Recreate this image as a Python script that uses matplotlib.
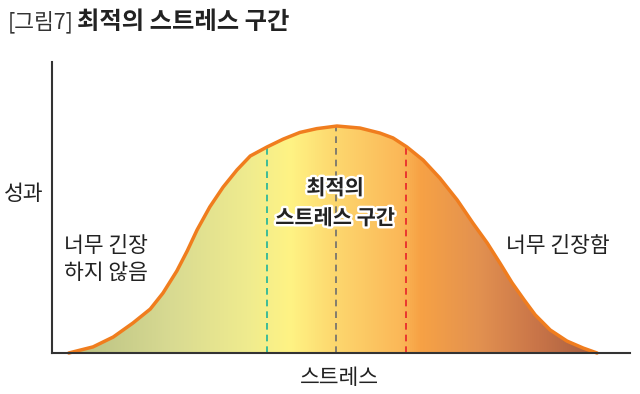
import numpy as np
import matplotlib
matplotlib.use("Agg")
import matplotlib.pyplot as plt
from matplotlib.colors import LinearSegmentedColormap
import matplotlib.patheffects as pe

plt.rcParams['font.family'] = ['Noto Sans CJK KR', 'DejaVu Sans']

# Curve (stress vs performance) (axis 0-100)
stress = [2.9, 7.1, 10.6, 14.0, 17.0, 19.2, 21.6, 23.4, 25.1, 27.3, 29.6, 32.0,
          34.3, 37.2, 40.0, 42.9, 45.8, 49.3, 53.3, 56.7, 59.0, 61.4, 64.2,
          67.1, 70.1, 72.8, 75.3, 77.5, 79.6, 81.7, 83.6, 86.2, 89.1, 91.9, 94.3]
performance = [0, 2.1, 5.5, 10.3, 15.1, 20.6, 28.2, 35.1, 42.3, 50.2, 57.0, 62.9,
               67.7, 70.8, 73.5, 75.8, 77.1, 78.0, 77.3, 75.6, 73.9, 70.8, 66.3,
               60.1, 52.6, 44.7, 37.8, 30.9, 24.1, 18.2, 13.1, 7.9, 4.1, 1.7, 0]

# Zone markers
marker_x = [37.2, 49.1, 61.2]
marker_colors = ['#1fb39a', '#6e6e6e', '#e8222a']

# Gradient stops along x
grad_pos = [2.6, 20.4, 34.3, 41.2, 48.1, 60.2, 63.7, 74.0, 84.4, 94.1]
grad_cols = ['#b7bf82', '#d8da92', '#f0ec8e', '#fff384', '#fdda70', '#fbb858',
             '#f7a245', '#e29150', '#c87448', '#a65e40']

title_prefix = "[그림7]"
title_main = "최적의 스트레스 구간"
ylabel = "성과"
xlabel = "스트레스"
label_left = ["너무 긴장", "하지 않음"]
label_mid = ["최적의", "스트레스 구간"]
label_right = "너무 긴장함"

W, H = 640, 394
fig = plt.figure(figsize=(W / 100, H / 100), dpi=100)
ax = fig.add_axes([52 / W, 1 - 353 / H, 578 / W, 291 / H])
ax.set_xlim(0, 100)
ax.set_ylim(0, 100)

# gradient fill clipped by curve
x0, x1 = grad_pos[0], grad_pos[-1]
nodes = [(p - x0) / (x1 - x0) for p in grad_pos]
cmap = LinearSegmentedColormap.from_list('g', list(zip(nodes, grad_cols)))
grad = np.linspace(0, 1, 512).reshape(1, -1)
im = ax.imshow(grad, cmap=cmap, extent=[x0, x1, 0, 100], aspect='auto',
               origin='lower', zorder=1)
poly = ax.fill(stress, performance, facecolor='none', edgecolor='none')[0]
im.set_clip_path(poly)

# dashed markers
for mx, mc in zip(marker_x, marker_colors):
    top = np.interp(mx, stress, performance)
    ax.plot([mx, mx], [0, top], color=mc, lw=1.2, ls=(0, (4, 3)), zorder=2)

ax.plot(stress, performance, color='#f07d1e', lw=2.5, zorder=3,
        solid_joinstyle='round', solid_capstyle='round', clip_on=False)

for s in ['top', 'right']:
    ax.spines[s].set_visible(False)
for s in ['left', 'bottom']:
    ax.spines[s].set_color('#333333')
    ax.spines[s].set_linewidth(1.5)
    ax.spines[s].set_zorder(4)
ax.set_xticks([])
ax.set_yticks([])

tc = '#222222'
fig.text(8 / W, 1 - 22 / H, title_prefix, fontsize=15.5, color='#333333',
         va='center', ha='left')
fig.text(77 / W, 1 - 22 / H, title_main, fontsize=17.5, color='#222222',
         fontweight='bold', va='center', ha='left')
fig.text(24 / W, 1 - 194 / H, ylabel, fontsize=15.5, color=tc, ha='center', va='center')
fig.text(339 / W, 1 - 378 / H, xlabel, fontsize=15.5, color=tc, ha='center', va='center')
for txt, yy in zip(label_left, [246, 273]):
    fig.text(64 / W, 1 - yy / H, txt, fontsize=15.5, color=tc, ha='left', va='center')
fig.text(506 / W, 1 - 246 / H, label_right, fontsize=15.5, color=tc, ha='left',
         va='center')
for txt, yy in zip(label_mid, [188, 218]):
    fig.text(335 / W, 1 - yy / H, txt, fontsize=15, color=tc, ha='center',
             va='center', fontweight='bold',
             path_effects=[pe.withStroke(linewidth=3.5, foreground='white')])

fig.savefig('out.png', dpi=100)
